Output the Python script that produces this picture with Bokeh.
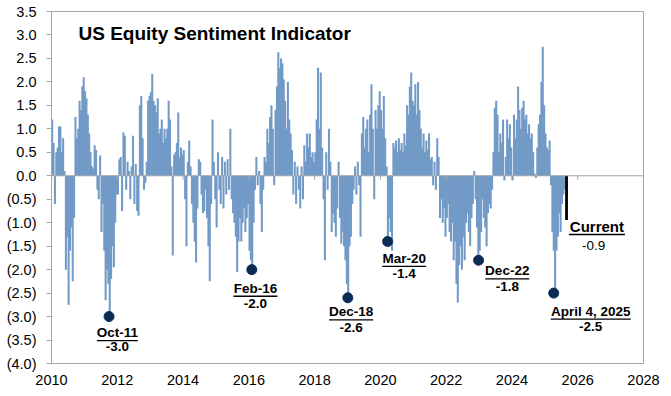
import numpy as np
from bokeh.plotting import figure
from bokeh.models import Range1d, FixedTicker, CustomJSTickFormatter, Span, ColumnDataSource, Label
from bokeh.core.properties import value
from bokeh.embed import file_html
from bokeh.resources import INLINE

# ---------------- data (semi-monthly readings, 24 per year) ----------------
v2010 = [1.2, 0.7, -0.6, 0.5, 0.6, 1.05, 1.05, 0.5, 0.8, 0.1, -2.0, -1.3, -2.75, -1.6, -1.1, -2.25, -0.9, 1.25, 0.8, 1.0, 1.6, 1.4, 1.9, 2.1]
v2011 = [1.8, 1.65, 1.3, 0.9, 0.5, 0.2, 0.15, 0.65, 0.55, -0.3, -0.5, 0.43, -1.2, -0.6, -1.6, -2.65, -2.0, -2.3, -3.0, -2.2, -1.5, -1.95, -1.0, -0.4]
v2012 = [-0.4, 0.35, 0.4, -0.75, 0.92, 0.85, -0.3, 0.3, 0.1, -0.5, 0.2, 0.85, -0.6, 0.25, -0.75, -0.85, 1.5, 1.7, 0.8, -0.3, -0.15, 0.3, 1.6, 1.7]
v2013 = [1.78, 2.17, 1.6, 1.5, 1.35, 1.65, 0.9, 1.0, 1.2, 0.7, 1.0, 0.8, 1.0, 1.6, 1.2, 0.2, -1.7, 0.45, 0.5, 0.7, 1.35, 0.4, 0.6, 0.45]
v2014 = [0.55, -0.5, -1.5, 0.3, 0.75, 0.2, -0.6, -1.0, -1.4, -1.85, -0.7, 0.35, 0.3, -0.4, -0.8, -0.75, -0.3, -0.9, -1.5, -2.25, -0.6, 1.2, 0.3, -0.5]
v2015 = [-1.1, 0.5, -0.3, -0.6, 0.4, -0.7, 0.3, -0.4, 0.35, -0.3, 1.0, -0.5, -0.8, -1.0, -1.3, -2.05, -1.4, -0.9, -1.4, -1.0, -0.7, -1.2, -0.9, -0.6]
v2016 = [-1.6, -1.8, -2.0, -1.0, -0.3, 0.4, -0.2, 0.1, -0.6, -1.2, -0.3, 0.4, 0.3, 1.0, 0.7, 1.25, 1.5, 1.0, -0.2, 1.4, 1.9, 2.63, 2.3, 2.5]
v2017 = [2.4, 2.05, 1.6, 1.0, 2.0, 1.2, 0.9, 0.55, -0.4, 0.3, -0.6, 0.2, -0.3, -0.7, 0.2, -0.5, 0.65, 0.3, 0.9, 0.6, 0.9, 0.4, 0.5, 0.3]
v2018 = [0.5, 1.2, 2.3, 1.0, 2.2, 0.6, -0.5, -1.8, 0.5, -0.3, 1.0, 0.3, -1.2, -0.8, -1.0, -1.3, -0.7, 0.3, -0.9, -1.45, -1.2, -1.5, -1.8, -2.3]
v2019 = [-2.58, -1.5, -1.3, -0.6, -0.3, 0.2, -0.4, 0.3, -0.2, -1.3, 0.9, 1.25, 0.6, 1.0, 1.2, 0.5, 1.3, 1.95, 1.0, -0.5, 1.4, 1.0, 1.5, 1.8]
v2020 = [1.4, 1.0, 1.7, 0.8, 0.2, -1.42, -0.9, -1.2, -1.6, 0.7, 0.6, 0.75, 0.5, 0.8, 0.55, 0.7, 0.5, 0.9, 0.65, 1.5, 1.3, 1.9, 2.2, 1.6]
v2021 = [1.5, 1.95, 1.3, 2.0, 1.4, 1.0, 0.6, 0.9, 0.5, 0.75, 0.55, 0.9, 0.35, 0.4, -0.2, 0.3, -0.3, 0.8, 0.4, -0.9, -0.5, -1.0, -0.7, -1.3]
v2022 = [-0.9, -0.6, -1.2, -1.4, -1.0, -1.8, -1.4, -2.3, -2.7, -1.9, -1.5, -2.0, -1.3, -1.8, -1.0, -0.8, -1.2, -1.5, -0.9, -0.6, 0.1, -0.5, -1.1, -1.83]
v2023 = [-1.6, -1.2, -0.5, -0.9, -1.1, -1.5, -0.8, -0.6, -0.7, -0.3, 0.5, 1.45, 1.6, 1.3, 0.5, 0.9, 0.7, 1.2, -0.1, 0.4, 1.2, 0.8, 1.1, 0.6]
v2024 = [-0.1, 1.3, 0.8, 1.2, 1.9, 1.4, 1.0, 1.45, 1.6, 1.2, 1.3, 0.9, 1.1, 0.8, 0.9, 0.5, 0.05, -0.05, 0.6, 1.1, 1.3, 2.0, 2.75, 1.5]
v2025 = [0.9, 0.6, 0.55, 0.75, -0.2, -1.2, -1.6, -2.47, -1.6, -1.3, -0.8, -1.2, -0.6, -0.4, -0.3]

series_years = list(range(2010, 2026))
series_values = [v2010, v2011, v2012, v2013, v2014, v2015, v2016, v2017,
                 v2018, v2019, v2020, v2021, v2022, v2023, v2024, v2025]

# current reading
current_x = 2025.66
current_value = -0.94
current_name = "Current"

# annotated troughs
trough_names = ["Oct-11", "Feb-16", "Dec-18", "Mar-20", "Dec-22", "April 4, 2025"]
trough_x = [2011.75, 2016.09, 2019.01, 2020.22, 2022.985, 2025.27]
trough_values = [-3.0, -2.0, -2.6, -1.4, -1.8, -2.5]

x_ticks = [2010, 2012, 2014, 2016, 2018, 2020, 2022, 2024, 2026, 2028]
y_ticks = [3.5, 3.0, 2.5, 2.0, 1.5, 1.0, 0.5, 0.0, -0.5, -1.0, -1.5, -2.0, -2.5, -3.0, -3.5, -4.0]

title_text = "US Equity Sentiment Indicator"

# ---------------- layout / style ----------------
W, H = 663, 392
L, R, T, B = 51, 20, 11, 29
X0, X1, Y0, Y1 = 2010, 2028, -4.0, 3.5
ppx = (W - L - R) / (X1 - X0)   # pixels per year
ppy = (H - T - B) / (Y1 - Y0)   # pixels per unit

FONT = "Liberation Sans"
GRAY = "#A6A6A6"
BAR = "#729AC7"
DOT = "#0B2D55"
TXT_SHIFT = -6.0   # baseline correction for text glyphs

# label offsets (px): centre dx, name baseline dy, underline dy, value baseline dy, underline width
lab_dx = [8.3, 3.7, 3.3, 16.6, 28.7, 37.0]
lab_name_dy = [21.6, 24.7, 20.0, 22.7, 16.3, 24.0]
lab_ul_dy = [24.0, 26.6, 22.0, 25.0, 18.6, 26.0]
lab_val_dy = [36.3, 39.7, 36.0, 38.4, 32.3, 39.0]
lab_ul_w = [41, 44, 44, 44, 44, 80]

bx, by = [], []
for yr, vals in zip(series_years, series_values):
    for i, v in enumerate(vals):
        bx.append(yr + (i + 0.5) / 24.0)
        by.append(v)

p = figure(width=W, height=H, x_range=Range1d(X0, X1), y_range=Range1d(Y0, Y1),
           output_backend="svg", toolbar_location=None)
p.min_border = 0
p.min_border_left = L
p.min_border_right = R
p.min_border_top = T
p.min_border_bottom = B
p.xgrid.visible = False
p.ygrid.visible = False
p.outline_line_color = GRAY
p.outline_line_width = 1
p.background_fill_color = "white"
p.border_fill_color = "white"

xa = p.xaxis[0]
xa.ticker = FixedTicker(ticks=x_ticks)
xa.major_tick_out = 0
xa.major_tick_in = 0
xa.minor_tick_out = 0
xa.minor_tick_in = 0
xa.axis_line_color = GRAY
xa.major_label_text_font = FONT
xa.major_label_text_font_size = "14.5px"
xa.major_label_text_color = "black"
xa.major_label_standoff = 11

ya = p.yaxis[0]
ya.ticker = FixedTicker(ticks=y_ticks)
ya.formatter = CustomJSTickFormatter(code="""
    const a = Math.abs(tick).toFixed(1);
    return tick < -1e-9 ? '(' + a + ')' : a;
""")
ya.major_tick_out = 5
ya.major_tick_in = 0
ya.minor_tick_out = 0
ya.minor_tick_in = 0
ya.axis_line_color = GRAY
ya.major_tick_line_color = GRAY
ya.major_label_text_font = FONT
ya.major_label_text_font_size = "14.5px"
ya.major_label_text_color = "black"
ya.major_label_standoff = 10

# bars
p.vbar(x=bx, top=by, bottom=0, width=1.5 / 24.0, fill_color=BAR, line_color=None)

# zero line with small tick marks
p.add_layout(Span(location=0, dimension="width", line_color=GRAY, line_width=1))
p.segment(x0=x_ticks, y0=[0] * len(x_ticks), x1=x_ticks, y1=[-4.0 / ppy] * len(x_ticks),
          line_color=GRAY, line_width=1)

# current bar
p.vbar(x=[current_x], top=[current_value], bottom=0, width=2.8 / ppx, fill_color="black", line_color=None)

# trough dots
p.scatter(x=trough_x, y=trough_values, size=10, fill_color=DOT, line_color=DOT)

# trough labels
src = ColumnDataSource(dict(x=trough_x, y=trough_values, name=trough_names,
                            val=["%.1f" % v for v in trough_values],
                            dx=lab_dx,
                            ndy=[d + TXT_SHIFT for d in lab_name_dy],
                            vdy=[d + TXT_SHIFT for d in lab_val_dy]))
p.text(x="x", y="y", text="name", x_offset="dx", y_offset="ndy", source=src,
       text_font=value(FONT), text_font_size="13.5px", text_font_style="bold",
       text_align="center", text_baseline="alphabetic", text_color="black")
p.text(x="x", y="y", text="val", x_offset="dx", y_offset="vdy", source=src,
       text_font=value(FONT), text_font_size="13.5px", text_font_style="bold",
       text_align="center", text_baseline="alphabetic", text_color="black")
ul_x = [x + dx / ppx for x, dx in zip(trough_x, lab_dx)]
ul_y = [y - dy / ppy for y, dy in zip(trough_values, lab_ul_dy)]
p.rect(x=ul_x, y=ul_y, width=lab_ul_w, height=1.3, width_units="screen", height_units="screen",
       fill_color="black", line_color=None)

# current label
cur_dx, cur_ndy, cur_uldy, cur_vdx, cur_vdy = 30.4, 12.6, 14.6, 27.0, 31.4
p.text(x=[current_x], y=[current_value], text=[current_name], x_offset=cur_dx, y_offset=cur_ndy + TXT_SHIFT,
       text_font=value(FONT), text_font_size="15px", text_font_style="bold",
       text_align="center", text_baseline="alphabetic", text_color="black")
p.text(x=[current_x], y=[current_value], text=["%.1f" % current_value], x_offset=cur_vdx,
       y_offset=cur_vdy + TXT_SHIFT,
       text_font=value(FONT), text_font_size="13.5px", text_font_style="normal",
       text_align="center", text_baseline="alphabetic", text_color="black")
p.rect(x=[current_x + cur_dx / ppx], y=[current_value - cur_uldy / ppy], width=[56], height=1.3,
       width_units="screen", height_units="screen", fill_color="black", line_color=None)

# title
p.add_layout(Label(x=X0 + 27 / ppx, y=Y1 - 22 / ppy, text=title_text,
                   text_font=FONT, text_font_size="19px", text_font_style="bold",
                   text_baseline="alphabetic", text_color="black"))

open("out.html", "w").write(file_html(p, INLINE))
